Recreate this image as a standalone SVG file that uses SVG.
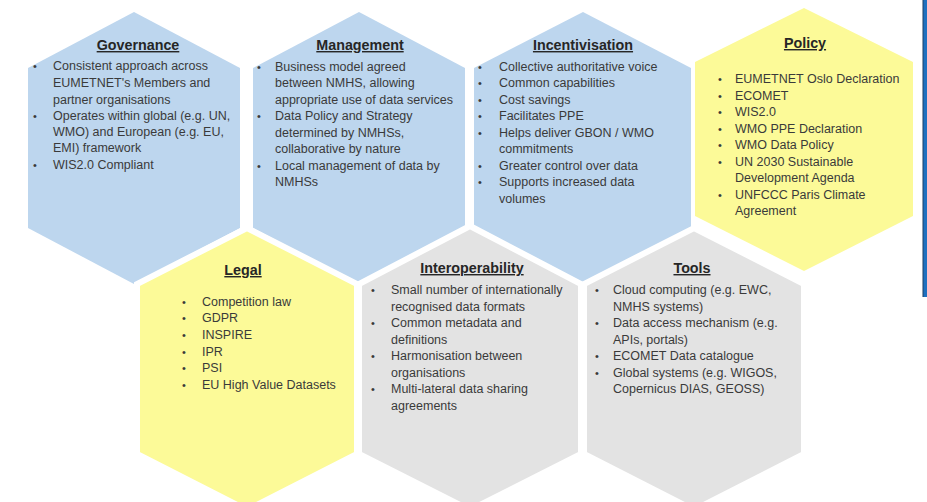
<svg xmlns="http://www.w3.org/2000/svg" width="927" height="502" viewBox="0 0 927 502">
<style>
.blue{fill:#bdd6ee}
.yellow{fill:#fcfa98}
.grey{fill:#e3e3e3}
.gap{stroke:#ffffff;stroke-width:6;stroke-linejoin:miter}
text{font-family:"Liberation Sans",Arial,sans-serif;fill:#3a3a3a}
.t{font-size:14.3px;font-weight:bold;text-anchor:middle;text-decoration:underline;fill:#262626}
.b{font-size:12.5px}
.d{font-size:11px}
</style>
<rect width="927" height="502" fill="#ffffff"/>
<rect x="923" y="0" width="4" height="297" fill="#1f70c0"/>
<rect x="922.5" y="0" width="1" height="297" fill="#1d3f66"/>

<g id="governance">
<polygon class="blue" points="134,12 240,68 240,228 134,284 28,228 28,68"/>
<text class="t" x="138" y="50">Governance</text>
<g class="d"><text x="33" y="70">•</text><text x="33" y="120">•</text><text x="33" y="169">•</text></g>
<g class="b">
<text x="53" y="70">Consistent approach across</text>
<text x="53" y="87">EUMETNET's Members and</text>
<text x="53" y="104">partner organisations</text>
<text x="53" y="120">Operates within global (e.g. UN,</text>
<text x="53" y="136">WMO) and European (e.g. EU,</text>
<text x="53" y="152">EMI) framework</text>
<text x="53" y="169">WIS2.0 Compliant</text>
</g>
</g>

<g id="management">
<polygon class="blue" points="359,12 465,68 465,228 359,284 253,228 253,68"/>
<text class="t" x="360" y="50">Management</text>
<g class="d"><text x="257" y="71">•</text><text x="257" y="120">•</text><text x="257" y="170">•</text></g>
<g class="b">
<text x="275" y="71">Business model agreed</text>
<text x="275" y="87">between NMHS, allowing</text>
<text x="275" y="104">appropriate use of data services</text>
<text x="275" y="120">Data Policy and Strategy</text>
<text x="275" y="137">determined by NMHSs,</text>
<text x="275" y="153">collaborative by nature</text>
<text x="275" y="170">Local management of data by</text>
<text x="275" y="186">NMHSs</text>
</g>
</g>

<g id="incentivisation">
<polygon class="blue" points="583,12 691,68 691,228 583,284 474,228 474,68"/>
<text class="t" x="583" y="50">Incentivisation</text>
<g class="d"><text x="478" y="71">•</text><text x="478" y="87">•</text><text x="478" y="104">•</text><text x="478" y="120">•</text><text x="478" y="137">•</text><text x="478" y="170">•</text><text x="478" y="186">•</text></g>
<g class="b">
<text x="499" y="71">Collective  authoritative voice</text>
<text x="499" y="87">Common capabilities</text>
<text x="499" y="104">Cost savings</text>
<text x="499" y="120">Facilitates PPE</text>
<text x="499" y="137">Helps deliver GBON / WMO</text>
<text x="499" y="153">commitments</text>
<text x="499" y="170">Greater control over data</text>
<text x="499" y="186">Supports increased data</text>
<text x="499" y="203">volumes</text>
</g>
</g>

<g id="policy">
<polygon class="yellow" points="804,8 913,62 913,216 804,271 695,216 695,62"/>
<text class="t" x="805" y="48">Policy</text>
<g class="d"><text x="718" y="83">•</text><text x="718" y="100">•</text><text x="718" y="116">•</text><text x="718" y="133">•</text><text x="718" y="149">•</text><text x="718" y="166">•</text><text x="718" y="199">•</text></g>
<g class="b">
<text x="735" y="83">EUMETNET Oslo Declaration</text>
<text x="735" y="100">ECOMET</text>
<text x="735" y="116">WIS2.0</text>
<text x="735" y="133">WMO PPE Declaration</text>
<text x="735" y="149">WMO Data Policy</text>
<text x="735" y="166">UN 2030 Sustainable</text>
<text x="735" y="182">Development Agenda</text>
<text x="735" y="199">UNFCCC Paris Climate</text>
<text x="735" y="215">Agreement</text>
</g>
</g>

<g id="legal">
<polygon class="yellow gap" points="247,228 357,284 357,454 247,510 137,454 137,284"/>
<text class="t" x="243" y="275">Legal</text>
<g class="d"><text x="182" y="306">•</text><text x="182" y="322">•</text><text x="182" y="339">•</text><text x="182" y="356">•</text><text x="182" y="372">•</text><text x="182" y="389">•</text></g>
<g class="b">
<text x="202" y="306">Competition law</text>
<text x="202" y="322">GDPR</text>
<text x="202" y="339">INSPIRE</text>
<text x="202" y="356">IPR</text>
<text x="202" y="372">PSI</text>
<text x="202" y="389">EU High Value Datasets</text>
</g>
</g>

<g id="interoperability">
<polygon class="grey gap" points="470,226 581,284 581,454 470,510 359,454 359,284"/>
<text class="t" x="472" y="273">Interoperability</text>
<g class="d"><text x="371" y="294">•</text><text x="371" y="327">•</text><text x="371" y="360">•</text><text x="371" y="393">•</text></g>
<g class="b">
<text x="391" y="294">Small number of internationally</text>
<text x="391" y="311">recognised data formats</text>
<text x="391" y="327">Common metadata and</text>
<text x="391" y="344">definitions</text>
<text x="391" y="360">Harmonisation between</text>
<text x="391" y="377">organisations</text>
<text x="391" y="393">Multi-lateral data sharing</text>
<text x="391" y="410">agreements</text>
</g>
</g>

<g id="tools">
<polygon class="grey gap" points="694,228 804,284 804,454 694,510 584,454 584,284"/>
<text class="t" x="692" y="273">Tools</text>
<g class="d"><text x="595" y="294">•</text><text x="595" y="327">•</text><text x="595" y="360">•</text><text x="595" y="377">•</text></g>
<g class="b">
<text x="613" y="294">Cloud computing (e.g. EWC,</text>
<text x="613" y="311">NMHS systems)</text>
<text x="613" y="327">Data access mechanism (e.g.</text>
<text x="613" y="344">APIs, portals)</text>
<text x="613" y="360">ECOMET Data catalogue</text>
<text x="613" y="377">Global systems (e.g. WIGOS,</text>
<text x="613" y="393">Copernicus DIAS, GEOSS)</text>
</g>
</g>
</svg>
